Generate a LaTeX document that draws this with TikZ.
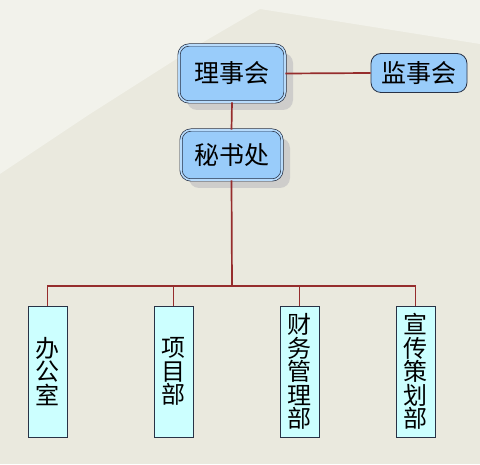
\documentclass[tikz,border=0pt]{standalone}
\usepackage{fontspec}
\setmainfont{Noto Sans CJK SC}
\usetikzlibrary{shadows}
\definecolor{bgbeige}{RGB}{234,233,222}
\definecolor{bglight}{RGB}{242,242,235}
\definecolor{topfill}{RGB}{153,204,250}
\definecolor{botfill}{RGB}{204,255,255}
\definecolor{edgecol}{RGB}{40,50,70}
\definecolor{linkred}{RGB}{150,45,45}
\tikzset{
  topbox/.style={draw=edgecol, line width=0.8pt, fill=topfill, rounded corners=10pt,
    minimum width=#1, inner sep=0pt, font=\fontsize{25}{26}\selectfont},
  dbl/.style={double=topfill!70!white, double distance=1.6pt, line width=0.7pt},
  shad/.style={drop shadow={shadow xshift=8pt, shadow yshift=-8pt, fill=black!22, opacity=0.8}},
  botbox/.style={draw=edgecol, line width=0.8pt, fill=botfill, minimum width=39pt,
    minimum height=131pt, inner sep=0pt, align=center, font=\fontsize{24}{23.5}\selectfont},
  link/.style={draw=linkred, line width=1.7pt}
}
\begin{document}
\begin{tikzpicture}[x=1pt,y=1pt]
\useasboundingbox (0,0) rectangle (480,464);
\fill[bgbeige] (0,0) rectangle (480,464);
\fill[bglight] (0,464) -- (0,290) -- (90,350) -- (200,420) -- (260,455) -- (480,420) -- (480,464) -- cycle;
\coordinate (bus) at (232,178);
% nodes
\node[topbox=106pt, minimum height=57pt, dbl, shad] (lsh) at (232,390.5) {理事会};
\node[topbox=96pt, minimum height=39pt] (jsh) at (419,391) {监事会};
\node[topbox=101pt, minimum height=50pt, dbl, shad] (msc) at (231.5,309) {秘书处};
\node[botbox] (bgs) at (47.5,92.5) {办\\公\\室};
\node[botbox] (xmb) at (173.5,92.5) {项\\目\\部};
\node[botbox] (cw) at (299.5,92.5) {财\\务\\管\\理\\部};
\node[botbox] (xc) at (415.5,92.5) {宣\\传\\策\\划\\部};
% connectors
\draw[link] (lsh.east) -- (jsh.west);
\draw[link] (lsh.south) -- (msc.north);
\draw[link] (msc.south) -- (bus);
\draw[link] (bgs.north) |- (bus) -| (xc.north);
\draw[link] (xmb.north) -- (xmb.north |- bus);
\draw[link] (cw.north) -- (cw.north |- bus);
\end{tikzpicture}
\end{document}
